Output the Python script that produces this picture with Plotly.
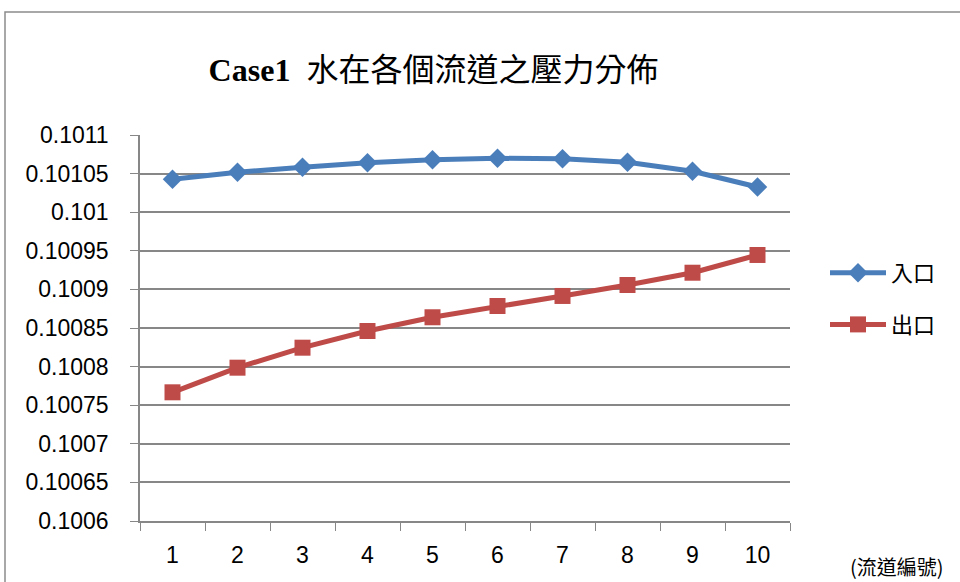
import plotly.graph_objects as go

categories = ["1", "2", "3", "4", "5", "6", "7", "8", "9", "10"]
inlet = [0.1010426, 0.1010517, 0.1010582, 0.1010641, 0.1010680,
         0.1010698, 0.1010693, 0.1010646, 0.1010530, 0.1010326]
outlet = [0.1007667, 0.1007986, 0.1008245, 0.1008461, 0.1008639,
          0.1008785, 0.1008915, 0.1009057, 0.1009216, 0.1009446]
ytick_vals = [0.1006, 0.10065, 0.1007, 0.10075, 0.1008, 0.10085,
              0.1009, 0.10095, 0.101, 0.10105, 0.1011]
ytick_text = ["0.1006", "0.10065", "0.1007", "0.10075", "0.1008", "0.10085",
              "0.1009", "0.10095", "0.101", "0.10105", "0.1011"]
series_names = ["入口", "出口"]
title_text = "<b>Case1</b>\u00a0\u00a0水在各個流道之壓力分佈"
xaxis_note = "(流道編號)"

BLUE = "#4A7EBB"
RED = "#BE4B48"
GRID = "#878787"
TICKFONT = dict(family="Liberation Sans, Arial, sans-serif", size=23, color="#000000")

fig = go.Figure()
fig.add_trace(go.Scatter(
    x=categories, y=inlet, name=series_names[0], mode="lines+markers",
    line=dict(color=BLUE, width=5),
    marker=dict(symbol="diamond", size=15, color=BLUE),
    legendgroup="a",
))
fig.add_trace(go.Scatter(
    x=categories, y=outlet, name=series_names[1], mode="lines+markers",
    line=dict(color=RED, width=5),
    marker=dict(symbol="square", size=16, color=RED),
    legendgroup="b",
))

L, R, T, B = 140, 170, 135, 61
W, H = 960, 582
pw, ph = W - L - R, H - T - B

def px_x(p):
    return (p - L) / pw

def px_y(p):
    return (H - B - p) / ph

fig.update_layout(
    width=W, height=H,
    margin=dict(l=L, r=R, t=T, b=B, pad=0),
    paper_bgcolor="white", plot_bgcolor="white",
    showlegend=True,
    title=dict(
        text=title_text,
        font=dict(family="Liberation Serif, Noto Sans CJK TC", size=32, color="#000000"),
        x=433.5 / W, xref="container", xanchor="center",
        y=1 - 70 / H, yref="container", yanchor="middle",
    ),
    legend=dict(
        x=px_x(825), xanchor="left", xref="paper",
        y=px_y(252), yanchor="top", yref="paper",
        font=dict(family="Noto Sans CJK TC", size=22, color="#000000"),
        bgcolor="rgba(0,0,0,0)", borderwidth=0,
        tracegroupgap=20, traceorder="grouped",
        itemwidth=56,
    ),
    xaxis=dict(
        type="category", range=[-0.5, 9.5],
        showgrid=False, showline=True, linecolor=GRID, linewidth=1.5,
        ticks="outside", tickson="boundaries", ticklen=8, tickcolor=GRID, tickwidth=1.3,
        tickfont=TICKFONT, ticklabelstandoff=13, zeroline=False,
    ),
    yaxis=dict(
        range=[0.1006, 0.1011], tickvals=ytick_vals, ticktext=ytick_text,
        showgrid=True, gridcolor=GRID, gridwidth=1.5,
        showline=True, linecolor=GRID, linewidth=1.5,
        ticks="outside", ticklen=8, tickcolor=GRID, tickwidth=1.3,
        tickfont=TICKFONT, ticklabelstandoff=17, zeroline=False,
    ),
    shapes=[dict(
        type="rect", xref="paper", yref="paper",
        x0=px_x(5), x1=px_x(1000), y0=px_y(620), y1=px_y(12),
        line=dict(color="#8C8C8C", width=1.5), fillcolor="rgba(0,0,0,0)",
        layer="below",
    )],
    annotations=[dict(
        text=xaxis_note, xref="paper", yref="paper",
        x=px_x(897), y=px_y(566), xanchor="center", yanchor="middle",
        showarrow=False,
        font=dict(family="Noto Sans CJK TC", size=20, color="#000000"),
    )],
)

fig.write_html("out.html",
               config={"displayModeBar": False},
               post_script="document.body.style.margin='0px';document.body.style.overflow='hidden';")
